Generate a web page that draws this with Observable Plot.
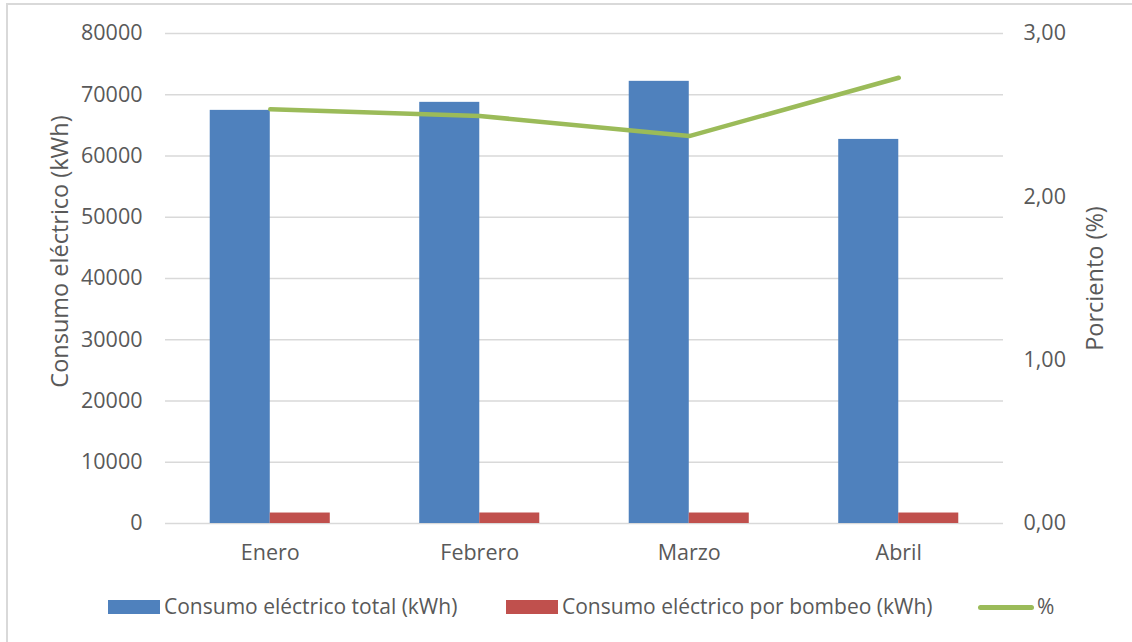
<!DOCTYPE html>
<html>
<head>
<meta charset="utf-8">
<script src="https://cdn.jsdelivr.net/npm/d3@7"></script>
<script src="https://cdn.jsdelivr.net/npm/@observablehq/plot@0.6"></script>
<style>
  html, body { margin: 0; padding: 0; background: #fff; }
  #chart { position: relative; width: 1132px; height: 642px; overflow: hidden; font-family: "Open Sans", sans-serif; color: #595959; }
  #frame { position: absolute; left: 6px; top: 3px; width: 1200px; height: 700px; border-left: 2px solid #d9d9d9; border-top: 2px solid #d9d9d9; }
  .layer { position: absolute; left: 0; top: 0; }
  .sw { position: absolute; }
  .lg { position: absolute; font-size: 21px; line-height: 22px; white-space: nowrap; }
</style>
</head>
<body>
<div id="chart"><div id="frame"></div></div>
<script>
const months = ["Enero", "Febrero", "Marzo", "Abril"];
const totalKWh = [67450, 68760, 72190, 62710];
const bombeoKWh = [1710, 1715, 1712, 1711];
const pct = [2.536, 2.495, 2.372, 2.729];
const leftTicks = [0, 10000, 20000, 30000, 40000, 50000, 60000, 70000, 80000];
const rightTicks = [0, 1, 2, 3];
const leftTitle = "Consumo eléctrico (kWh)";
const rightTitle = "Porciento (%)";
const seriesNames = ["Consumo eléctrico total (kWh)", "Consumo eléctrico por bombeo (kWh)", "%"];
const colors = ["#4f81bd", "#c0504d", "#9bbb59"];

const data = months.map((m, i) => ({month: m, total: totalKWh[i], bombeo: bombeoKWh[i], pct: pct[i]}));

const W = 1132, H = 580;
const common = {
  width: W, height: H,
  marginTop: 33, marginBottom: 57, marginLeft: 165, marginRight: 129,
  style: {fontFamily: "'Open Sans', sans-serif", fontSize: "21.5px", color: "#595959", background: "transparent", overflow: "visible"}
};
const xScale = {domain: months, paddingInner: 0.427, paddingOuter: 0.2135, round: false, axis: null};

const p1 = Plot.plot({
  ...common,
  x: xScale,
  y: {domain: [0, 80000], axis: null},
  marks: [
    Plot.gridY(leftTicks, {stroke: "#d9d9d9", strokeOpacity: 1, strokeWidth: 1.5}),
    Plot.axisY(leftTicks, {anchor: "left", tickSize: 0, tickPadding: 23, label: null, tickFormat: d => String(d)}),
    Plot.axisX(months, {anchor: "bottom", tickSize: 0, tickPadding: 21, label: null}),
    Plot.barY(data, {x: "month", y: "total", fill: colors[0], insetLeft: 0, insetRight: 60}),
    Plot.barY(data, {x: "month", y: "bombeo", fill: colors[1], insetLeft: 60, insetRight: 0}),
    Plot.text([leftTitle], {frameAnchor: "left", textAnchor: "middle", dx: -105, dy: -27, rotate: -90, fontSize: 23.5, fill: "#595959"})
  ]
});

const p2 = Plot.plot({
  ...common,
  x: xScale,
  y: {domain: [0, 3], axis: null},
  marks: [
    Plot.line(data, {x: "month", y: "pct", stroke: colors[2], strokeWidth: 4.5, strokeLinecap: "round", strokeLinejoin: "round"}),
    Plot.axisY(rightTicks, {anchor: "right", tickSize: 0, tickPadding: 20, label: null, tickFormat: d => d.toFixed(2).replace(".", ",")}),
    Plot.text([rightTitle], {frameAnchor: "right", textAnchor: "middle", dx: 92, rotate: -90, fontSize: 23.5, fill: "#595959"})
  ]
});

const chart = document.getElementById("chart");
p1.classList.add("layer");
p2.classList.add("layer");
chart.appendChild(p1);
chart.appendChild(p2);

// legend
function add(html) { const d = document.createElement("div"); d.innerHTML = html; chart.appendChild(d.firstChild); }
add(`<div class="sw" style="left:108px;top:600px;width:52px;height:14px;background:${colors[0]}"></div>`);
add(`<div class="lg" style="left:164px;top:595px">${seriesNames[0]}</div>`);
add(`<div class="sw" style="left:506px;top:600px;width:52px;height:14px;background:${colors[1]}"></div>`);
add(`<div class="lg" style="left:562px;top:595px">${seriesNames[1]}</div>`);
add(`<div class="sw" style="left:978px;top:605px;width:56px;height:5px;border-radius:3px;background:${colors[2]}"></div>`);
add(`<div class="lg" style="left:1037px;top:595px">${seriesNames[2]}</div>`);
</script>
</body>
</html>
